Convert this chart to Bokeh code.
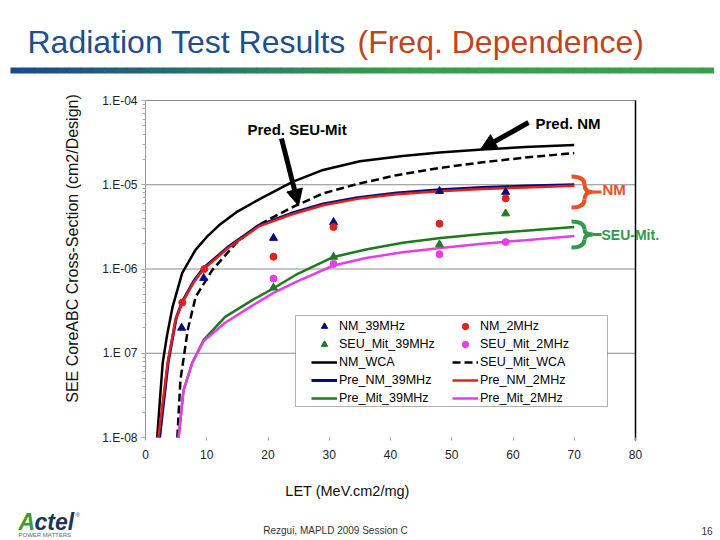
import math
from bokeh.plotting import figure
from bokeh.models import (Range1d, FixedTicker, LogTicker, CustomJSTickFormatter, Label,
                          Arrow, NormalHead, BoxAnnotation, Legend, LegendItem)
from bokeh.embed import file_html
from bokeh.resources import INLINE

# ---------------- data ----------------
# measured points
nm39_let = [5.9, 9.5, 20.9, 30.7, 48.0, 58.8]
nm39_xs = [2.0e-7, 7.8e-7, 2.33e-6, 3.6e-6, 8.4e-6, 8.2e-6]
nm2_let = [6.0, 9.6, 20.9, 30.7, 48.0, 58.8]
nm2_xs = [4.0e-7, 1.0e-6, 1.4e-6, 3.15e-6, 3.45e-6, 6.9e-6]
mit39_let = [20.9, 30.7, 48.0, 58.8]
mit39_xs = [6.0e-7, 1.39e-6, 1.95e-6, 4.55e-6]
mit2_let = [20.9, 30.7, 48.0, 58.8]
mit2_xs = [7.7e-7, 1.15e-6, 1.5e-6, 2.09e-6]

# fitted / predicted curves
nmwca_let = [1.9, 2.8, 3.5, 4.4, 6.0, 8.2, 10, 12, 15, 19, 24, 29, 35, 42, 48, 55, 62, 70]
nmwca_xs = [1e-8, 7.6e-8, 1.6e-7, 3.5e-7, 9e-7, 1.7e-6, 2.4e-6, 3.3e-6, 4.8e-6, 7.0e-6,
            1.08e-5, 1.5e-5, 1.9e-5, 2.2e-5, 2.42e-5, 2.62e-5, 2.8e-5, 2.97e-5]
mitwca_let = [5.2, 5.7, 6.9, 8.2, 10.9, 14.7, 16.3, 19, 23.7, 29, 34.6, 41, 48, 55, 62, 70]
mitwca_xs = [1e-8, 4.8e-8, 1.9e-7, 4.7e-7, 9.7e-7, 2.0e-6, 2.5e-6, 3.5e-6, 5.3e-6, 7.9e-6,
             1.02e-5, 1.3e-5, 1.58e-5, 1.85e-5, 2.1e-5, 2.38e-5]
prenm39_let = [2.3, 3.7, 5.0, 6.0, 7.9, 9.5, 13.6, 18.5, 23.7, 29, 34.6, 41, 48, 55, 62, 70]
prenm39_xs = [1e-8, 7.8e-8, 2.6e-7, 4.1e-7, 7.2e-7, 1.03e-6, 1.85e-6, 3.3e-6, 4.55e-6, 5.9e-6,
              7.0e-6, 8.0e-6, 8.7e-6, 9.25e-6, 9.65e-6, 1.0e-5]
prenm2_let = [2.1, 3.6, 4.9, 6.0, 7.9, 9.5, 13.6, 18.5, 23.7, 29, 34.6, 41, 48, 55, 62, 70]
prenm2_xs = [1e-8, 7.6e-8, 2.5e-7, 4.0e-7, 7.0e-7, 1.0e-6, 1.8e-6, 3.2e-6, 4.4e-6, 5.7e-6,
             6.8e-6, 7.7e-6, 8.4e-6, 8.9e-6, 9.3e-6, 9.7e-6]
premit39_let = [5.4, 6.2, 7.6, 9.5, 13, 17.5, 20.9, 24.5, 30.7, 36, 42, 48.2, 55, 62, 70]
premit39_xs = [1e-8, 3.6e-8, 7.6e-8, 1.44e-7, 2.7e-7, 4.3e-7, 5.9e-7, 8.5e-7, 1.39e-6, 1.7e-6,
               2.05e-6, 2.33e-6, 2.6e-6, 2.85e-6, 3.15e-6]
premit2_let = [5.4, 6.2, 7.6, 9.5, 13, 17.5, 20.9, 24.5, 30.7, 36, 42, 48.2, 55, 62, 70]
premit2_xs = [1e-8, 3.6e-8, 7.6e-8, 1.4e-7, 2.3e-7, 3.7e-7, 5.2e-7, 7.0e-7, 1.1e-6, 1.35e-6,
              1.58e-6, 1.77e-6, 2.0e-6, 2.2e-6, 2.46e-6]

x_ticks = [0, 10, 20, 30, 40, 50, 60, 70, 80]
y_decades = [-8, -7, -6, -5, -4]
y_tick_labels = ["1.E-08", "1.E 07", "1.E-06", "1.E-05", "1.E-04"]

# ---------------- layout helpers ----------------
W, H = 720, 540
FL, FR, FT, FB = 145, 635, 100, 437      # pixel box of the chart area
XMIN, XMAX = 0, 80
LMIN, LMAX = -8, -4
FONT = "Liberation Sans"


def dx(px):
    return XMIN + (px - FL) / (FR - FL) * (XMAX - XMIN)


def dy(py):
    return 10 ** (LMAX - (py - FT) / (FB - FT) * (LMAX - LMIN))


# the plotting frame covers the whole canvas; the chart area is placed inside it
p = figure(width=W, height=H, x_range=Range1d(dx(0), dx(W)), y_range=Range1d(dy(H), dy(0)),
           y_axis_type="log", output_backend="svg", toolbar_location=None,
           min_border=0, min_border_left=0, min_border_right=0, min_border_top=0,
           min_border_bottom=0)
p.outline_line_color = None
p.grid.visible = False
p.background_fill_color = "white"
p.border_fill_color = "white"

# axes drawn at the chart-area edges
xa = p.xaxis[0]
xa.fixed_location = 10**LMIN
xa.bounds = (XMIN, XMAX)
xa.ticker = FixedTicker(ticks=x_ticks)
xa.axis_line_color = None
xa.major_tick_line_color = "#999999"
xa.major_tick_in = 0
xa.major_tick_out = 3
xa.minor_tick_line_color = None
xa.major_label_text_font = FONT
xa.major_label_text_font_size = "12px"
xa.major_label_text_color = "#222222"
xa.major_label_standoff = 9

ya = p.yaxis[0]
ya.fixed_location = XMIN
ya.bounds = (10**LMIN, 10**LMAX)
ya.ticker = LogTicker(num_minor_ticks=10)
ya.formatter = CustomJSTickFormatter(args=dict(labels=y_tick_labels, lo=LMIN), code="""
const e = Math.round(Math.log10(tick));
const s = labels[e - lo];
return s === undefined ? "" : s;
""")
ya.axis_line_color = "#999999"
ya.major_tick_line_color = "#999999"
ya.minor_tick_line_color = "#aaaaaa"
ya.major_tick_in = 0
ya.major_tick_out = 4
ya.minor_tick_in = 0
ya.minor_tick_out = 3
ya.major_label_text_font = FONT
ya.major_label_text_font_size = "12px"
ya.major_label_text_color = "#222222"
ya.major_label_standoff = 4

# horizontal gridlines at decades (except the bottom) and right border
grid_y = [10**e for e in y_decades if e > LMIN]
p.segment(x0=[XMIN] * len(grid_y), x1=[XMAX] * len(grid_y), y0=grid_y, y1=grid_y,
          line_color="#8a8a8a", line_width=1)
p.segment(x0=[XMAX], x1=[XMAX], y0=[dy(440)], y1=[10**LMAX], line_color="black", line_width=1.5)

NAVY = "#0a0a78"
RED = "#e0201e"
GREEN = "#1f7a1f"
MAG = "#e63ee6"

# curves
r_nmwca = p.line(nmwca_let, nmwca_xs, line_color="black", line_width=2.5)
r_mitwca = p.line(mitwca_let, mitwca_xs, line_color="black", line_width=2.5, line_dash="8 4")
r_prenm39 = p.line(prenm39_let, prenm39_xs, line_color=NAVY, line_width=3)
r_prenm2 = p.line(prenm2_let, prenm2_xs, line_color=RED, line_width=2.5)
r_premit39 = p.line(premit39_let, premit39_xs, line_color=GREEN, line_width=2.5)
r_premit2 = p.line(premit2_let, premit2_xs, line_color=MAG, line_width=2.5)

# points
r_nm39 = p.scatter(nm39_let, nm39_xs, marker="triangle", size=8, fill_color=NAVY, line_color=NAVY)
r_nm2 = p.scatter(nm2_let, nm2_xs, marker="circle", size=7, fill_color=RED, line_color=RED)
r_mit39 = p.scatter(mit39_let, mit39_xs, marker="triangle", size=8, fill_color=GREEN, line_color=GREEN)
r_mit2 = p.scatter(mit2_let, mit2_xs, marker="circle", size=7, fill_color=MAG, line_color=MAG)

# legend box + two columns
p.add_layout(BoxAnnotation(left=dx(295), right=dx(607), top=dy(315), bottom=dy(406),
                           fill_color="white", fill_alpha=1, line_color="black", line_width=1))


def mk_legend(items, left_px):
    return Legend(items=items, location=(left_px, H - 406), orientation="vertical",
                  border_line_alpha=0, background_fill_alpha=0, padding=0, margin=0,
                  spacing=2, glyph_height=16, glyph_width=26, label_height=16, label_standoff=2,
                  label_text_font=FONT, label_text_font_size="12.5px", label_text_color="black")


leg1 = mk_legend([LegendItem(label="NM_39MHz", renderers=[r_nm39]),
                  LegendItem(label="SEU_Mit_39MHz", renderers=[r_mit39]),
                  LegendItem(label="NM_WCA", renderers=[r_nmwca]),
                  LegendItem(label="Pre_NM_39MHz", renderers=[r_prenm39]),
                  LegendItem(label="Pre_Mit_39MHz", renderers=[r_premit39])], 311)
leg2 = mk_legend([LegendItem(label="NM_2MHz", renderers=[r_nm2]),
                  LegendItem(label="SEU_Mit_2MHz", renderers=[r_mit2]),
                  LegendItem(label="SEU_Mit_WCA", renderers=[r_mitwca]),
                  LegendItem(label="Pre_NM_2MHz", renderers=[r_prenm2]),
                  LegendItem(label="Pre_Mit_2MHz", renderers=[r_premit2])], 452)
p.add_layout(leg1, "center")
p.add_layout(leg2, "center")


def label(px, py, text, size, color="black", style="normal", align="left", angle=0.0):
    p.add_layout(Label(x=dx(px), y=dy(py), text=text, text_font=FONT, text_font_size=size,
                       text_color=color, text_font_style=style, text_align=align,
                       text_baseline="middle", angle=angle))


# callouts
label(247, 129, "Pred. SEU-Mit", "15px", style="bold")
label(535, 123, "Pred. NM", "15px", style="bold")
p.add_layout(Arrow(end=NormalHead(size=16, fill_color="black", line_color="black", line_width=1),
                   x_start=dx(281), y_start=dy(138), x_end=dx(298), y_end=dy(205),
                   line_color="black", line_width=5))
p.add_layout(Arrow(end=NormalHead(size=16, fill_color="black", line_color="black", line_width=1),
                   x_start=dx(528), y_start=dy(122), x_end=dx(480), y_end=dy(149),
                   line_color="black", line_width=5))


def brace(x0, top, bot, color):
    mid = (top + bot) / 2
    xm = x0 + 13
    tip = x0 + 21
    segs = [((x0, top), (xm, top + 8), (xm, top)),
            ((xm, top + 8), (tip, mid), (xm, mid)),
            ((tip, mid), (xm, bot - 8), (xm, mid)),
            ((xm, bot - 8), (x0, bot), (xm, bot))]
    p.quadratic(x0=[dx(s[0][0]) for s in segs], y0=[dy(s[0][1]) for s in segs],
                x1=[dx(s[1][0]) for s in segs], y1=[dy(s[1][1]) for s in segs],
                cx=[dx(s[2][0]) for s in segs], cy=[dy(s[2][1]) for s in segs],
                line_color=color, line_width=4)
    p.segment(x0=[dx(tip)], y0=[dy(mid)], x1=[dx(tip + 9)], y1=[dy(mid)],
              line_color=color, line_width=3)


ORANGE = "#ee4f22"
SGREEN = "#2f9a4c"
brace(571, 176, 207, ORANGE)
brace(571, 221, 247, SGREEN)
label(602, 189, "NM", "15px", color=ORANGE, style="bold")
label(601, 234, "SEU-Mit.", "14px", color=SGREEN, style="bold")

# axis titles
label(72, 248, "SEE CoreABC Cross-Section (cm2/Design)", "16px", color="#111111",
      align="center", angle=math.pi / 2)
label(347, 490, "LET (MeV.cm2/mg)", "14.5px", color="#111111", align="center")

# slide title and rule
label(27, 41, "Radiation Test Results", "32px", color="#1f4e8c")
label(357, 41, "(Freq. Dependence)", "32px", color="#c0441c")
N = 60
c0 = (0x1b, 0x4a, 0x8c)
c1 = (0x38, 0xa0, 0x4a)
for i in range(N):
    a = 10 + (713 - 10) * i / N
    b = 10 + (713 - 10) * (i + 1) / N + 0.6
    t = min(1.0, i / (N * 0.55))
    col = "#%02x%02x%02x" % tuple(int(c0[k] + (c1[k] - c0[k]) * t) for k in range(3))
    p.add_layout(BoxAnnotation(left=dx(a), right=dx(b), top=dy(67), bottom=dy(73),
                               fill_color=col, fill_alpha=1, line_alpha=0))

# footer
label(335, 530, "Rezgui, MAPLD 2009 Session C", "10px", color="#333333", align="center")
label(712, 530, "16", "10px", color="#333333", align="right")
label(18, 521, "A", "23px", color="#3a9a3a", style="bold italic")
label(34, 521, "ctel", "23px", color="#1c3656", style="bold italic")
label(75, 514, "®", "6px", color="#1c3656")
label(18, 534, "POWER MATTERS", "6px", color="#556677")

open("out.html", "w").write(file_html(p, INLINE))
